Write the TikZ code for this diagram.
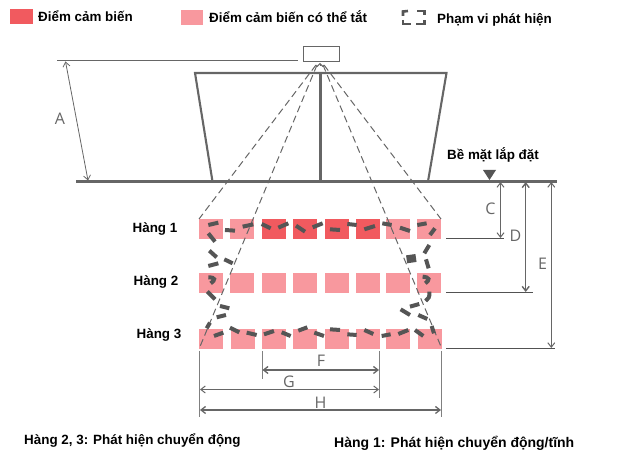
\documentclass[tikz,border=0pt]{standalone}
\usepackage{fontspec}
\setmainfont{Liberation Sans}
\newfontfamily\dimfont{Open Sans}
\usetikzlibrary{arrows.meta}
\definecolor{sensred}{HTML}{F15A5F}
\definecolor{senspink}{HTML}{F8989E}
\definecolor{linegray}{HTML}{666666}
\definecolor{blobgray}{HTML}{555555}
\tikzset{
  sensoron/.style={fill=sensred,draw=none,minimum width=24,minimum height=20,inner sep=0,outer sep=0,anchor=north west},
  sensoroff/.style={fill=senspink,draw=none,minimum width=24,minimum height=20,inner sep=0,outer sep=0,anchor=north west},
  frameline/.style={draw=linegray,line width=2.1},
  thinline/.style={draw=linegray,line width=1},
  tickline/.style={draw=linegray!80!black,line width=1.1},
  viewline/.style={draw=linegray,line width=1,dash pattern=on 7 off 4},
  dimline/.style={draw=linegray,line width=1,{Straight Barb[length=4.5,width=7]}-{Straight Barb[length=4.5,width=7]}},
  blobdash/.style={draw=blobgray,line width=4},
  legenddash/.style={draw=blobgray,line width=2.6},
  lbl/.style={font=\fontsize{13.4}{15}\selectfont\bfseries,text=black,inner sep=0,anchor=west},
  dimlbl/.style={font=\dimfont\fontsize{16}{18}\selectfont,text=linegray,inner sep=0},
}
\begin{document}
\begin{tikzpicture}[x=1pt,y=-1pt]
\useasboundingbox (0,0) rectangle (633,462);
% legend
\node[sensoron,minimum width=23,minimum height=15] (legon) at (10,9) {};
\node[lbl] (legontext) at (38,16) {Điểm cảm biến};
\node[sensoroff,minimum width=22,minimum height=15] (legoff) at (181,10) {};
\node[lbl] (legofftext) at (209,17) {Điểm cảm biến có thể tắt};
\draw[legenddash] (403,16) -- (403,11.5) -- (408,11);
\draw[legenddash] (417,11) -- (424.5,11) -- (424.5,15);
\draw[legenddash] (403,20) -- (403,24) -- (411,24);
\draw[legenddash] (416,24) -- (424.5,24) -- (424.5,20);
\node[lbl] (legrange) at (437,19.5) {Phạm vi phát hiện};
% structure
\coordinate (apex) at (320,63);
\coordinate (tl) at (195,73);
\coordinate (tr) at (446.5,73);
\coordinate (tc) at (320.5,73);
\coordinate (bl) at (212.5,181.5);
\coordinate (br) at (428,181.5);
\coordinate (bc) at (320.5,181.5);
\coordinate (gl) at (76,181.5);
\coordinate (gr) at (557,181.5);
\node[draw=linegray,line width=1.2,minimum width=36,minimum height=15,inner sep=0,anchor=north west] (box) at (302.5,46) {};
\coordinate (cl) at (57,60.5);
\coordinate (cr) at (298,60.5);
\draw[thinline,line width=1.2] (cl) -- (cr);
\draw[frameline] (bl) -- (tl) -- (tr) -- (br);
\draw[frameline] (tc) -- (bc);
\draw[frameline] (gl) -- (gr);
\coordinate (aA) at (65.5,61.5);
\coordinate (bA) at (88,180.5);
\draw[dimline,line width=.8] (aA) -- (bA);
\node[dimlbl] (A) at (60,119) {A};
\draw[thinline,-{Straight Barb[length=3,width=6]}] (320,66) -- (apex);
% sensors
\foreach \x/\c [count=\i] in {199/sensoroff,230/sensoroff,262/sensoron,293/sensoron,325/sensoron,356/sensoron,386/sensoroff,417/sensoroff}
  \node[\c] (ra\i) at (\x,219) {};
\foreach \x [count=\i] in {199,230,262,293,325,356,386,417}
  \node[sensoroff] (rb\i) at (\x,273) {};
\foreach \x [count=\i] in {199,231,262,293,325,356,386,418}
  \node[sensoroff] (rc\i) at (\x,329) {};
% field of view
\coordinate (ftl) at (199,219);
\coordinate (ftr) at (441,219);
\coordinate (fbl) at (199,349);
\coordinate (fbr) at (442,349);
\draw[viewline] (316,65) -- (ftl);
\draw[viewline] (317,65) -- (fbl);
\draw[viewline] (324,65) -- (ftr);
\draw[viewline] (323,65) -- (fbr);
% detection range
\begin{scope}[shift={(180,200)},x=.3333pt,y=-.3333pt]
\foreach \ax/\ay/\bx/\by in {
 85/75/115/68,135/90/165/92,188/80/220/73,245/72/272/85,295/83/325/70,348/77/375/95,
 398/82/428/70,450/88/480/90,502/72/530/75,553/88/585/78,607/70/635/75,660/83/690/93,
 712/75/740/70,750/105/765/85,733/160/748/135,738/178/746/205,
 690/320/718/312,662/328/690/345,715/345/742/357,755/378/762/400,705/390/730/408,
 655/402/685/390,605/408/632/403,553/390/580/402,502/403/530/405,450/388/480/390,
 403/398/432/408,355/392/382/382,305/397/332/408,252/403/282/393,200/398/230/405,
 150/383/178/397,102/408/130/398,80/385/90/368,110/352/138/345,120/318/148/325,
 82/275/105/298,85/198/115/190,133/178/158/190,88/152/110/172,85/100/105/125}
  \draw[blobdash] (\ax,\ay) -- (\bx,\by);
\draw[blobdash,line width=8] (680,178) -- (708,174);
\draw[blobdash] (728,230) .. controls (750,232) and (750,240) .. (736,250);
\draw[blobdash] (748,275) .. controls (750,290) and (745,298) .. (737,303);
\draw[blobdash] (85,232) .. controls (107,232) and (107,240) .. (92,250);
\end{scope}
% row labels
\node[lbl,anchor=center] (rowa) at (155,229) {Hàng 1};
\node[lbl,anchor=center] (rowb) at (156,282) {Hàng 2};
\node[lbl,anchor=center] (rowc) at (159,335) {Hàng 3};
% surface
\node[lbl] (surf) at (447,155) {Bề mặt lắp đặt};
\fill[blobgray] (483,170) -- (496,170) -- (489.5,180) -- cycle;
% right dims
\coordinate (ca) at (500.5,182);
\coordinate (cb) at (500.5,238);
\coordinate (da) at (525.7,182);
\coordinate (db) at (525.7,292);
\coordinate (ea) at (551.3,182);
\coordinate (eb) at (551.3,348);
\draw[tickline] (446,238.5) -- (504,238.5);
\draw[tickline] (446,292.5) -- (533,292.5);
\draw[tickline] (446,348.5) -- (555,348.5);
\draw[dimline] (ca) -- (cb);
\draw[dimline,line width=1.4] (da) -- (db);
\draw[dimline] (ea) -- (eb);
\node[dimlbl] (C) at (490.5,208.5) {C};
\node[dimlbl] (D) at (515.5,235.5) {D};
\node[dimlbl] (E) at (542.5,263.5) {E};
% bottom dims
\draw[thinline,gray] (199.5,351) -- (199.5,417);
\draw[thinline,gray] (262,351) -- (262,379);
\draw[thinline,gray] (379.5,351) -- (379.5,398);
\draw[thinline,gray] (441.5,351) -- (441.5,417);
\coordinate (fa) at (262.5,370);
\coordinate (fb) at (379,370);
\coordinate (ga) at (200,389.5);
\coordinate (gb) at (379,389.5);
\coordinate (ha) at (200,410);
\coordinate (hb) at (441,410);
\draw[dimline,line width=1.3] (fa) -- (fb);
\draw[dimline] (ga) -- (gb);
\draw[dimline,line width=1.3] (ha) -- (hb);
\node[dimlbl] (F) at (321,361) {F};
\node[dimlbl] (G) at (289,382) {G};
\node[dimlbl] (H) at (320.5,402.5) {H};
% captions
\node[lbl] (capa) at (24,441) {Hàng 2, 3: Phát hiện chuyển động};
\node[lbl,font=\fontsize{14}{16}\selectfont\bfseries] (capb) at (334,443) {Hàng 1: Phát hiện chuyển động/tĩnh};
\end{tikzpicture}
\end{document}
